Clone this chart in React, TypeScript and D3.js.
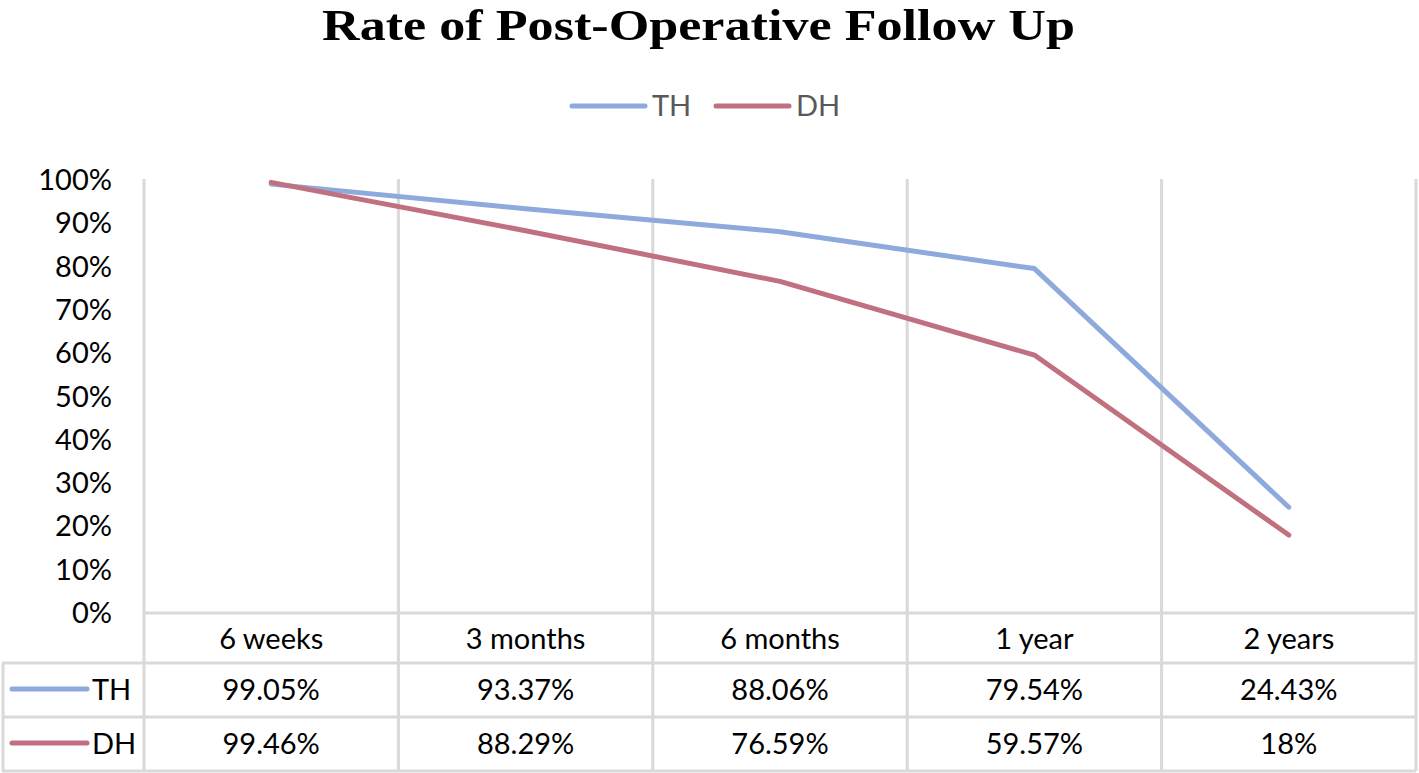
import React from "react";
import * as d3 from "d3";

const categories = ["6 weeks", "3 months", "6 months", "1 year", "2 years"];
const thValues = [99.05, 93.37, 88.06, 79.54, 24.43];
const dhValues = [99.46, 88.29, 76.59, 59.57, 18];
const thLabels = ["99.05%", "93.37%", "88.06%", "79.54%", "24.43%"];
const dhLabels = ["99.46%", "88.29%", "76.59%", "59.57%", "18%"];
const yTicks = [0, 10, 20, 30, 40, 50, 60, 70, 80, 90, 100];

const series = [
  { name: "TH", values: thValues, labels: thLabels, color: "#8EA9DB" },
  { name: "DH", values: dhValues, labels: dhLabels, color: "#C0707E" },
];

const W = 1419;
const H = 773;
const left = 144;
const right = 1416;
const top = 180;
const bottom = 613;
const catRowBottom = 663;
const rowH = 54;
const grid = "#D9D9D9";
const font = "Lato, 'Open Sans', sans-serif";
const fs = 29;

export default function App() {
  const x = d3.scaleBand<string>().domain(categories).range([left, right]);
  const y = d3.scaleLinear().domain([0, 100]).range([bottom, top]);
  const line = d3
    .line<number>()
    .x((_, i) => (x(categories[i]) as number) + x.bandwidth() / 2)
    .y((d) => y(d));

  const boundaries = categories.map((c) => x(c) as number).concat([right]);
  const tableBottom = catRowBottom + rowH * series.length;

  return (
    <svg
      width={W}
      height={H}
      style={{ position: "absolute", left: 0, top: 0, background: "#fff" }}
    >
      <text
        x={322}
        y={40}
        textLength={753}
        lengthAdjust="spacingAndGlyphs"
        fontFamily="'Liberation Serif', 'Times New Roman', serif"
        fontWeight="bold"
        fontSize={45}
        fill="#000"
      >
        Rate of Post-Operative Follow Up
      </text>

      {/* legend */}
      {series.map((s, i) => {
        const lx = 572 + i * 144;
        return (
          <g key={s.name}>
            <line
              x1={lx}
              x2={lx + 73}
              y1={106}
              y2={106}
              stroke={s.color}
              strokeWidth={5}
              strokeLinecap="round"
            />
            <text
              x={lx + 80}
              y={116}
              fontFamily={font}
              fontSize={fs}
              fill="#595959"
            >
              {s.name}
            </text>
          </g>
        );
      })}

      {/* y axis labels */}
      {yTicks.map((t) => (
        <text
          key={t}
          x={112}
          y={y(t) + 10}
          textAnchor="end"
          fontFamily={font}
          fontSize={fs}
          fill="#000"
        >
          {t}%
        </text>
      ))}

      {/* vertical gridlines */}
      {boundaries.map((bx, i) => (
        <line
          key={i}
          x1={bx}
          x2={bx}
          y1={top - 1}
          y2={tableBottom}
          stroke={grid}
          strokeWidth={3}
        />
      ))}
      {/* horizontal table lines */}
      <line x1={left} x2={right} y1={bottom} y2={bottom} stroke={grid} strokeWidth={3} />
      {[catRowBottom, catRowBottom + rowH, tableBottom].map((ly, i) => (
        <line key={i} x1={2} x2={right} y1={ly} y2={ly} stroke={grid} strokeWidth={3} />
      ))}
      <line x1={3} x2={3} y1={catRowBottom} y2={tableBottom} stroke={grid} strokeWidth={3} />

      {/* category labels */}
      {categories.map((c) => (
        <text
          key={c}
          x={(x(c) as number) + x.bandwidth() / 2}
          y={649}
          textAnchor="middle"
          fontFamily={font}
          fontSize={fs}
          fill="#000"
        >
          {c}
        </text>
      ))}

      {/* table rows */}
      {series.map((s, r) => {
        const cy = catRowBottom + rowH * r + rowH / 2;
        return (
          <g key={s.name}>
            <line
              x1={12}
              x2={87}
              y1={cy - 1}
              y2={cy - 1}
              stroke={s.color}
              strokeWidth={5}
              strokeLinecap="round"
            />
            <text x={92} y={cy + 10} fontFamily={font} fontSize={fs} fill="#000">
              {s.name}
            </text>
            {s.labels.map((lab, i) => (
              <text
                key={i}
                x={(x(categories[i]) as number) + x.bandwidth() / 2}
                y={cy + 10}
                textAnchor="middle"
                fontFamily={font}
                fontSize={fs}
                fill="#000"
              >
                {lab}
              </text>
            ))}
          </g>
        );
      })}

      {/* lines */}
      {series.map((s) => (
        <path
          key={s.name}
          d={line(s.values) || ""}
          fill="none"
          stroke={s.color}
          strokeWidth={5}
          strokeLinecap="round"
          strokeLinejoin="round"
        />
      ))}
    </svg>
  );
}
